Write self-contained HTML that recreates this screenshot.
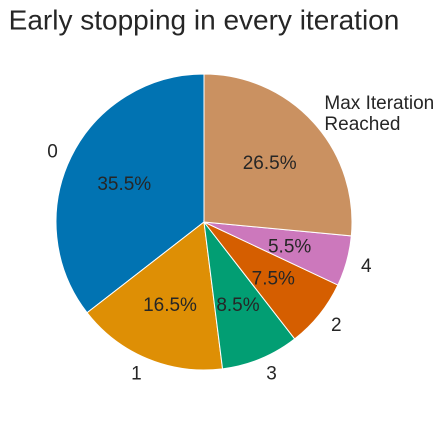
<!DOCTYPE html>
<html><head><meta charset="utf-8"><style>
body{margin:0;background:#fff;width:446px;height:418px;overflow:hidden}
svg{font-family:"Liberation Sans","DejaVu Sans",sans-serif}
</style></head><body>
<svg id="chart" width="446" height="418">
<text x="204" y="22" text-anchor="middle" font-size="28" fill="#262626" dominant-baseline="middle">Early stopping in every iteration</text>
<g id="pie"></g>
</svg>
<script>
const categories = ["0","1","3","2","4","Max Iteration\nReached"];
const values = [35.5,16.5,8.5,7.5,5.5,26.5];
const pctLabels = ["35.5%","16.5%","8.5%","7.5%","5.5%","26.5%"];
const colors = ["#0173b2","#de8f05","#029e73","#d55e00","#cc78bc","#ca9161"];
const cx=204, cy=222, r=148;
const g=document.getElementById('pie');
const NS="http://www.w3.org/2000/svg";
const total=values.reduce((a,b)=>a+b,0);
let ang=90;
function pt(a,rr){const t=a*Math.PI/180;return [cx+rr*Math.cos(t), cy-rr*Math.sin(t)];}
values.forEach((v,i)=>{
  const sweep=v/total*360, a0=ang, a1=ang+sweep;
  const [x0,y0]=pt(a0,r),[x1,y1]=pt(a1,r);
  const p=document.createElementNS(NS,'path');
  p.setAttribute('d',`M${cx},${cy} L${x0},${y0} A${r},${r} 0 ${sweep>180?1:0} 0 ${x1},${y1} Z`);
  p.setAttribute('fill',colors[i]);p.setAttribute('stroke','#fff');p.setAttribute('stroke-width','1');
  
  
  g.appendChild(p);
  const mid=(a0+a1)/2;
  const [lx,ly]=pt(mid,r*1.1);
  const t=document.createElementNS(NS,'text');
  t.setAttribute('x',lx);t.setAttribute('font-size','19');t.setAttribute('fill','#262626');
  t.setAttribute('text-anchor',lx>=cx?'start':'end');
  const lines=categories[i].split('\n');
  lines.forEach((ln,k)=>{const s=document.createElementNS(NS,'tspan');s.setAttribute('x',lx);
    s.setAttribute('y',ly+(k-(lines.length-1)/2)*21+7);s.textContent=ln;t.appendChild(s);});
  
  
  g.appendChild(t);
  const [px,py]=pt(mid,r*0.6);
  const q=document.createElementNS(NS,'text');
  q.setAttribute('x',px);q.setAttribute('y',py+7);q.setAttribute('text-anchor','middle');
  q.setAttribute('font-size','19');q.setAttribute('fill','#262626');q.textContent=pctLabels[i];
  
  
  g.appendChild(q);
  ang=a1;
});
</script>
</body></html>
